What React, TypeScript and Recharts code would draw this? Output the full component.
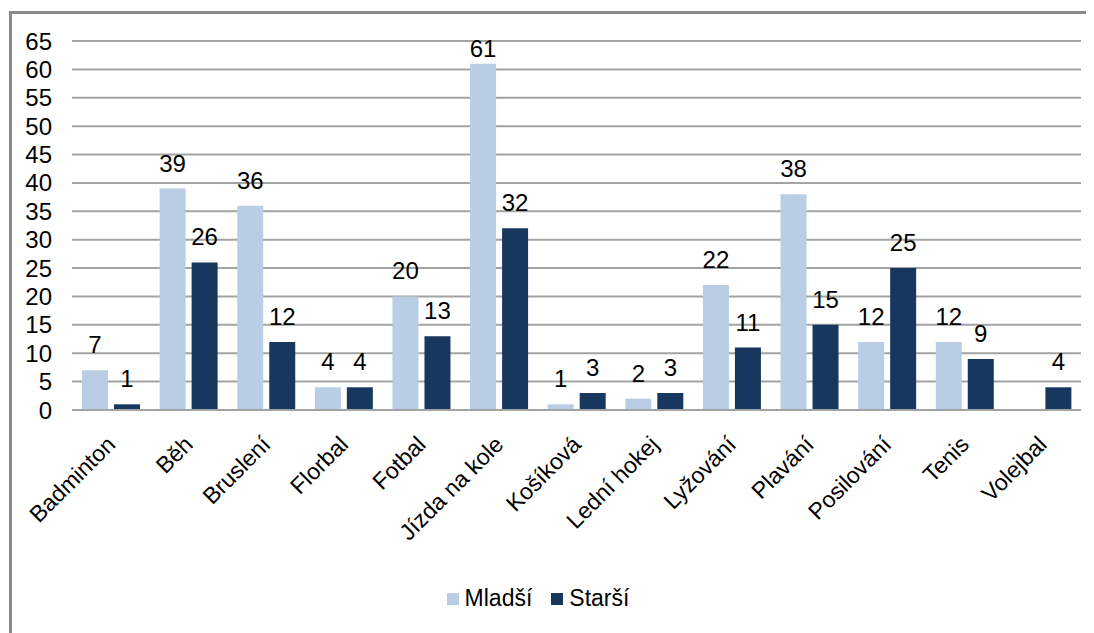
import React from 'react';
import { BarChart, Bar, XAxis, YAxis, CartesianGrid, Legend, LabelList } from 'recharts';

const categories = ['Badminton', 'Běh', 'Bruslení', 'Florbal', 'Fotbal', 'Jízda na kole', 'Košíková', 'Lední hokej', 'Lyžování', 'Plavání', 'Posilování', 'Tenis', 'Volejbal'];
const mladsi: (number | null)[] = [7, 39, 36, 4, 20, 61, 1, 2, 22, 38, 12, 12, null];
const starsi: (number | null)[] = [1, 26, 12, 4, 13, 32, 3, 3, 11, 15, 25, 9, 4];
const yTicks = [0, 5, 10, 15, 20, 25, 30, 35, 40, 45, 50, 55, 60, 65];

const seriesNames = { a: 'Mladší', b: 'Starší' };
const colors = { a: '#b9cde5', b: '#17375e' };

const data = categories.map((c, i) => ({ name: c, a: mladsi[i], b: starsi[i] }));

const FONT = '"Liberation Sans", Arial, sans-serif';

const AngledTick = (props: any) => {
  const { x, y, payload } = props;
  return (
    <g transform={`translate(${x - 4},${y + 12})`}>
      <text
        x={0}
        y={0}
        dy={14}
        textAnchor="end"
        transform="rotate(-45)"
        fontSize={23}
        fontFamily={FONT}
        fill="#000"
      >
        {payload.value}
      </text>
    </g>
  );
};

const ValueLabel = (props: any) => {
  const { x, y, width, value } = props;
  if (value === null || value === undefined) return null;
  const base = Math.max(y - 17, 49);
  return (
    <text x={x + width / 2} y={base} textAnchor="middle" fontSize={24} fontFamily={FONT} fill="#000">
      {value}
    </text>
  );
};

const LegendContent = (props: any) => {
  const { payload } = props;
  return (
    <div style={{ display: 'flex', justifyContent: 'center', alignItems: 'center', fontFamily: FONT, fontSize: 23, color: '#000' }}>
      {payload.map((p: any, i: number) => (
        <div key={i} style={{ display: 'flex', alignItems: 'center', marginRight: i === 0 ? 19 : 0 }}>
          <div style={{ width: 12, height: 12, background: p.color, marginRight: 6 }} />
          <span>{p.value}</span>
        </div>
      ))}
    </div>
  );
};

export default function App() {
  return (
    <div style={{ position: 'relative', width: 1086, height: 625, background: '#fff' }}>
      <div
        style={{
          position: 'absolute',
          left: 1,
          top: 3,
          width: 1090,
          height: 640,
          borderTop: '3px solid #8a8a8a',
          borderLeft: '3px solid #8a8a8a',
          boxSizing: 'border-box',
        }}
      />
      <div style={{ position: 'absolute', left: 0, top: 0 }}>
        <BarChart
          width={1086}
          height={625}
          data={data}
          margin={{ top: 33, right: 13, left: 0, bottom: 12 }}
          barCategoryGap={10}
          barGap={6}
        >
          <CartesianGrid vertical={false} stroke="#a3a3a3" strokeWidth={2} />
          <XAxis
            dataKey="name"
            interval={0}
            height={175}
            tick={<AngledTick />}
            tickLine={false}
            axisLine={{ stroke: '#a3a3a3', strokeWidth: 2 }}
            tickMargin={8}
          />
          <YAxis
            width={64}
            domain={[0, 65]}
            ticks={yTicks}
            interval={0}
            axisLine={false}
            tickLine={false}
            tickSize={0}
            tickMargin={20}
            tick={{ fontSize: 24, fontFamily: FONT, fill: '#000' }}
          />
          <Legend
            verticalAlign="bottom"
            height={36}
            wrapperStyle={{ left: 0, width: 1060 }}
            content={<LegendContent />}
          />
          <Bar dataKey="a" name={seriesNames.a} fill={colors.a} isAnimationActive={false}>
            <LabelList dataKey="a" content={<ValueLabel />} />
          </Bar>
          <Bar dataKey="b" name={seriesNames.b} fill={colors.b} isAnimationActive={false}>
            <LabelList dataKey="b" content={<ValueLabel />} />
          </Bar>
        </BarChart>
      </div>
    </div>
  );
}
